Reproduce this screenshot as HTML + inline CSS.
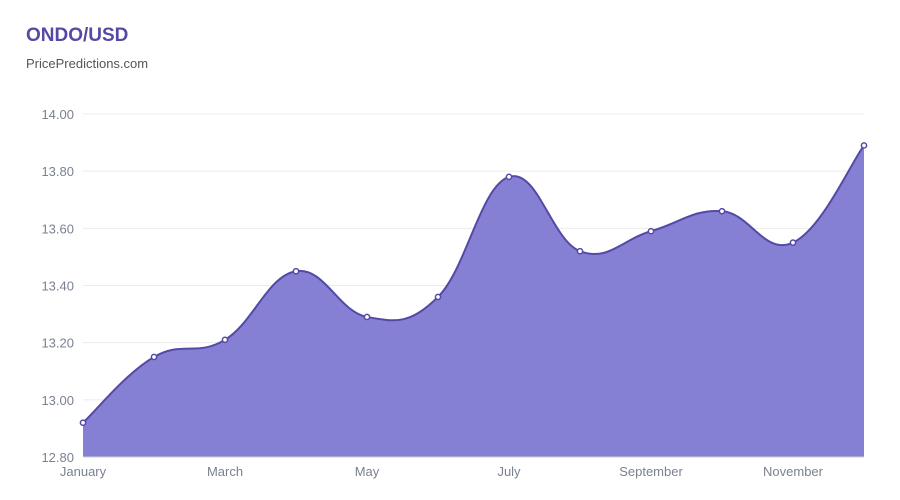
<!DOCTYPE html>
<html><head><meta charset="utf-8"><style>
body{margin:0;background:#fff;font-family:"Liberation Sans",sans-serif;}
</style></head><body>
<svg width="900" height="495" xmlns="http://www.w3.org/2000/svg">
<text x="26" y="41" font-size="19" font-weight="bold" fill="#5549a6" font-family="Liberation Sans, sans-serif">ONDO/USD</text>
<text x="26" y="68" font-size="13" fill="#555" font-family="Liberation Sans, sans-serif">PricePredictions.com</text>
<g id="grid"></g><g id="area"></g><g id="pts"></g><g id="xl"></g>
</svg>
<script>
const months=["January","February","March","April","May","June","July","August","September","October","November","December"];
const prices=[12.92,13.15,13.21,13.45,13.29,13.36,13.78,13.52,13.59,13.66,13.55,13.89];
const yTicks=[12.80,13.00,13.20,13.40,13.60,13.80,14.00];
const xLabelIdx=[0,2,4,6,8,10];
const NS="http://www.w3.org/2000/svg";
const x0=83,x1=864,yTop=114,yBot=457,vMin=12.8,vMax=14.0;
const xs=i=>x0+(x1-x0)*i/(months.length-1);
const ys=v=>yBot-(v-vMin)/(vMax-vMin)*(yBot-yTop);
function mk(t,a,p){const e=document.createElementNS(NS,t);for(const k in a)e.setAttribute(k,a[k]);p.appendChild(e);return e;}
const g=document.getElementById('grid');
yTicks.forEach(v=>{
 const l=mk('line',{x1:x0,x2:x1,y1:ys(v),y2:ys(v),stroke:'#ebebeb','stroke-width':1},g);
 
 
 const t=mk('text',{x:74,y:ys(v)+5,'text-anchor':'end','font-size':13,fill:'#7a8190'},g);
 t.textContent=v.toFixed(2);
 
 
});
const P=prices.map((v,i)=>[xs(i),ys(v)]);
let d=`M${P[0][0]},${P[0][1]}`;
const n=P.length,T=0.4;
for(let i=0;i<n-1;i++){
 const p0=P[Math.max(i-1,0)],p1=P[i],p2=P[i+1],p3=P[Math.min(i+2,n-1)];
 const c1=[p1[0]+(p2[0]-p0[0])*T/2,p1[1]+(p2[1]-p0[1])*T/2];
 const c2=[p2[0]-(p3[0]-p1[0])*T/2,p2[1]-(p3[1]-p1[1])*T/2];
 d+=` C${c1[0]},${c1[1]} ${c2[0]},${c2[1]} ${p2[0]},${p2[1]}`;
}
const a=document.getElementById('area');
const f=mk('path',{d:d+` L${P[n-1][0]},${yBot} L${P[0][0]},${yBot} Z`,fill:'#8680d4'},a);


const ln=mk('path',{d:d,fill:'none',stroke:'#5549a6','stroke-width':2},a);


mk('line',{x1:x0,x2:x1,y1:yBot,y2:yBot,stroke:'#ccc'},a);
const pg=document.getElementById('pts');
P.forEach((p,i)=>{
 const c=mk('circle',{cx:p[0],cy:p[1],r:2.6,fill:'#fff',stroke:'#5549a6','stroke-width':1.5},pg);
 
 
});
const xl=document.getElementById('xl');
xLabelIdx.forEach(i=>{
 const t=mk('text',{x:xs(i),y:476,'text-anchor':'middle','font-size':13,fill:'#7a8190'},xl);
 t.textContent=months[i];
 
 
});
</script>
</body></html>
